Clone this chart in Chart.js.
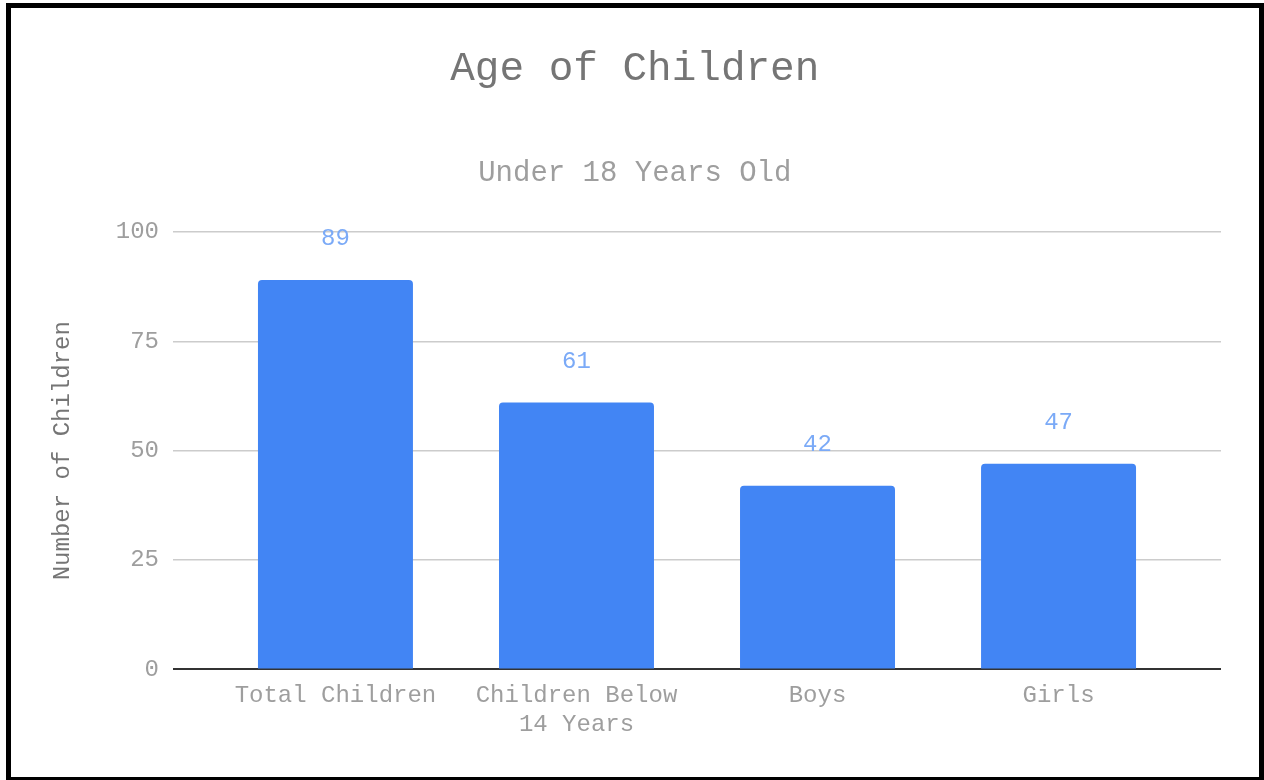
<!DOCTYPE html>
<html>
<head>
<meta charset="utf-8">
<script src="https://cdn.jsdelivr.net/npm/chart.js@4"></script>
<style>
  html, body { margin: 0; padding: 0; background: #fff; }
  #wrap { position: relative; width: 1264px; height: 780px; overflow: hidden; }
  #c { position: absolute; left: 0; top: 0; }
  #frame { position: absolute; left: 6px; top: 3px; width: 1248px; height: 769px; border: 5px solid #000; pointer-events: none; }
</style>
</head>
<body>
<div id="wrap">
  <canvas id="c" width="1264" height="780"></canvas>
  <div id="frame"></div>
</div>
<script>
const categories = ["Total Children", ["Children Below", "14 Years"], "Boys", "Girls"];
const childCounts = [89, 61, 42, 47];
const yTicks = [0, 25, 50, 75, 100];
const titleText = "Age of Children";
const subtitleText = "Under 18 Years Old";
const yAxisTitle = "Number of Children";

const FONT = "'Liberation Mono', 'Courier New', monospace";
const points = childCounts.map((v, i) => ({ x: i, y: v }));

const valueLabels = {
  id: 'valueLabels',
  afterDatasetsDraw(chart) {
    const ctx = chart.ctx;
    const meta = chart.getDatasetMeta(0);
    ctx.save();
    ctx.font = "24px " + FONT;
    ctx.fillStyle = "#7baaf7";
    ctx.textAlign = "center";
    ctx.textBaseline = "middle";
    meta.data.forEach((bar, i) => {
      ctx.fillText(String(childCounts[i]), bar.x, bar.y - 41);
    });
    ctx.restore();
  }
};

new Chart(document.getElementById('c'), {
  type: 'bar',
  data: {
    datasets: [{
      data: points,
      backgroundColor: '#4285f4',
      borderRadius: 4,
      borderSkipped: 'start',
      categoryPercentage: 1,
      barPercentage: 0.643
    }]
  },
  options: {
    responsive: false,
    animation: false,
    layout: { padding: { left: 48.6, right: 43, top: 0, bottom: 29 } },
    plugins: {
      legend: { display: false },
      tooltip: { enabled: false },
      title: {
        display: true,
        text: titleText,
        color: '#757575',
        font: { family: FONT, size: 41, weight: 'normal', lineHeight: 1.2 },
        padding: { top: 45, bottom: 0 }
      },
      subtitle: {
        display: true,
        text: subtitleText,
        color: '#9e9e9e',
        font: { family: FONT, size: 29, weight: 'normal', lineHeight: 1.2 },
        padding: { top: 62, bottom: 41 }
      }
    },
    scales: {
      x: {
        type: 'linear',
        offset: false,
        bounds: 'data',
        min: -0.674,
        max: 3.674,
        grid: { display: false, drawTicks: false, offset: false },
        border: { display: false },
        afterBuildTicks(scale) {
          scale.ticks = categories.map((_, i) => ({ value: i }));
        },
        ticks: {
          padding: 12,
          color: '#9e9e9e',
          font: { family: FONT, size: 24, lineHeight: 1.2 },
          maxRotation: 0,
          autoSkip: false,
          callback: (value) => categories[value]
        }
      },
      y: {
        min: 0,
        max: 100,
        afterBuildTicks(scale) {
          scale.ticks = yTicks.map(v => ({ value: v }));
        },
        grid: {
          drawTicks: false,
          color: (ctx) => ctx.tick && ctx.tick.value === 0 ? '#333333' : '#cccccc',
          lineWidth: (ctx) => ctx.tick && ctx.tick.value === 0 ? 2 : 1.5
        },
        border: { display: false },
        ticks: {
          padding: 14,
          color: '#9e9e9e',
          font: { family: FONT, size: 24 }
        },
        title: {
          display: true,
          text: yAxisTitle,
          color: '#757575',
          font: { family: FONT, size: 24, lineHeight: 1.2 },
          padding: { top: 0, bottom: 24.4 }
        }
      }
    }
  },
  plugins: [valueLabels]
});
</script>
</body>
</html>
